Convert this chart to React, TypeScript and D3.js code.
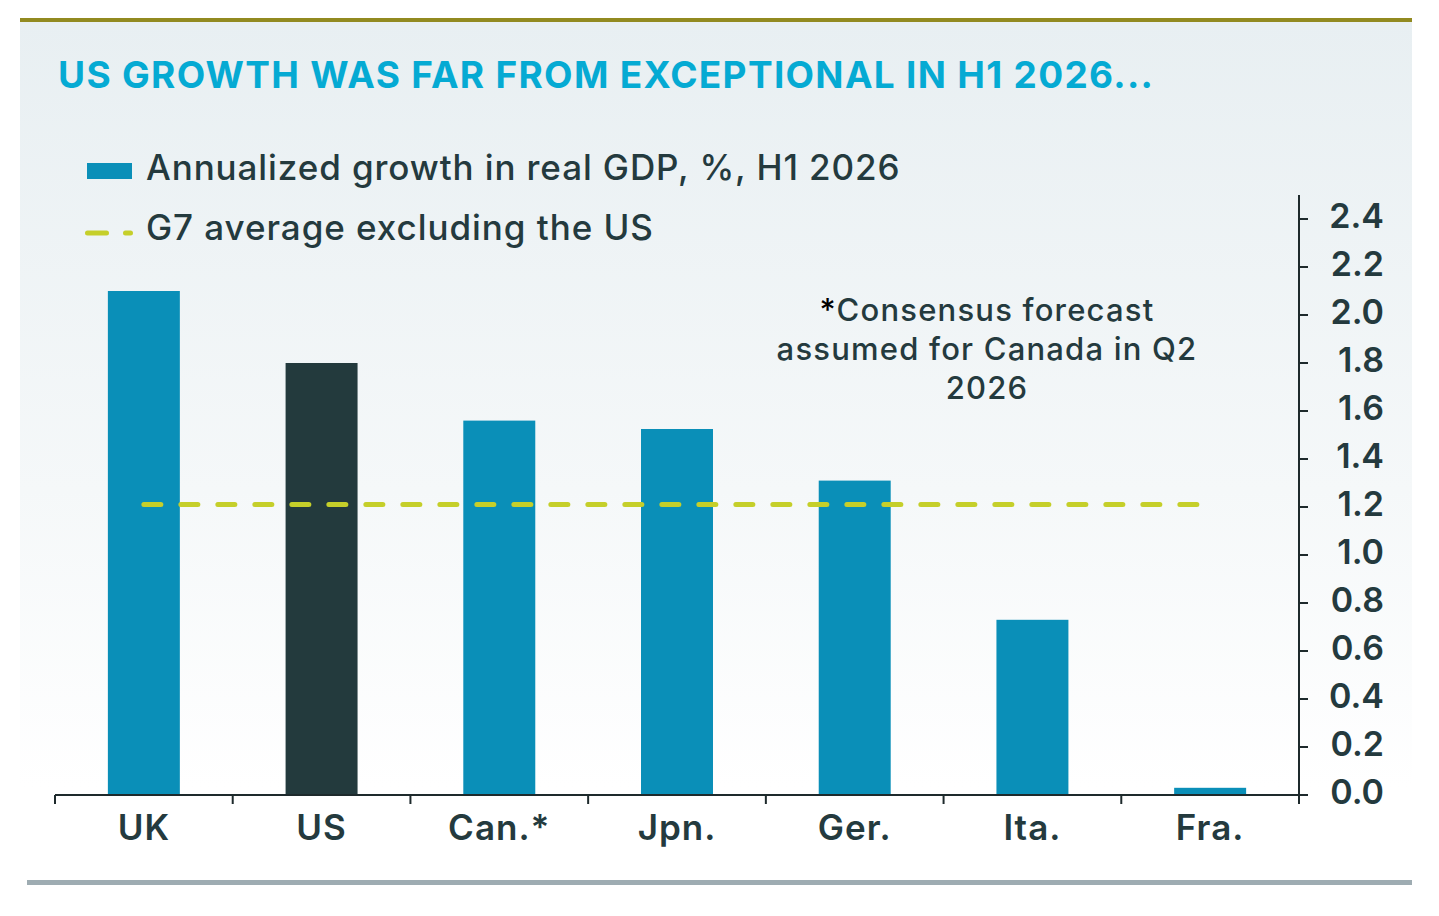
import React from 'react';
import { scaleBand, scaleLinear, range } from 'd3';

const countries = ['UK', 'US', 'Can.*', 'Jpn.', 'Ger.', 'Ita.', 'Fra.'];
const growth = [2.1, 1.8, 1.56, 1.525, 1.31, 0.73, 0.03];
const g7Average = 1.21;
const yTicks = [0, 0.2, 0.4, 0.6, 0.8, 1.0, 1.2, 1.4, 1.6, 1.8, 2.0, 2.2, 2.4];
const highlight = 'US';

const title = 'US GROWTH WAS FAR FROM EXCEPTIONAL IN H1 2026...';
const legendBars = 'Annualized growth in real GDP, %, H1 2026';
const legendLine = 'G7 average excluding the US';
const noteLines = ['Consensus forecast', 'assumed for Canada in Q2', '2026'];

const W = 1439;
const H = 916;
const FONT = 'Inter, "Noto Sans", sans-serif';
const INK = '#243a3e';
const BLUE = '#0a8fb8';
const DARK = '#233a3d';
const LIME = '#c5cf2a';
const AXIS = '#1e2a2c';

const App: React.FC = () => {
  const x0 = 55;
  const x1 = 1299;
  const yBase = 795;

  const xScale = scaleBand<string>().domain(countries).range([x0, x1]);
  const yScale = scaleLinear().domain([0, 2.5]).range([yBase, yBase - 2.5 * 240]);

  const bw = xScale.bandwidth();
  const barW = bw * 0.405;
  const tickXs = range(countries.length + 1).map((i) => x0 + i * bw);
  const first = countries[0];
  const last = countries[countries.length - 1];

  return (
    <div style={{ position: 'absolute', left: 0, top: 0 }}>
      <svg width={W} height={H} style={{ display: 'block', background: '#fff' }}>
        <defs>
          <linearGradient id="panel" x1="0" y1="0" x2="0" y2="1">
            <stop offset="0" stopColor="#e8eff2" />
            <stop offset="0.55" stopColor="#f5f8f9" />
            <stop offset="0.9" stopColor="#ffffff" />
          </linearGradient>
        </defs>
        <rect x={20} y={22} width={1392} height={850} fill="url(#panel)" />
        <rect x={20} y={18} width={1392} height={4} fill="#928a20" />
        <rect x={27} y={880} width={1385} height={5} fill="#9eacb2" />

        <text x={58} y={88} fontFamily={FONT} fontWeight={700} fontSize={37} letterSpacing={1.3} fill="#05aad3">
          {title}
        </text>

        {/* legend */}
        <rect x={87} y={163} width={45} height={16} fill={BLUE} />
        <text x={146} y={180} fontFamily={FONT} fontWeight={500} fontSize={35} letterSpacing={0.9} fill={INK}>
          {legendBars}
        </text>
        <line x1={87.5} x2={130.5} y1={233} y2={233} stroke={LIME} strokeWidth={5} strokeLinecap="round" strokeDasharray="19 19" />
        <text x={146} y={240} fontFamily={FONT} fontWeight={500} fontSize={35} letterSpacing={0.95} fill={INK}>
          {legendLine}
        </text>

        {/* bars */}
        {countries.map((c, i) => {
          const cx = (xScale(c) as number) + bw / 2;
          const y = yScale(growth[i]);
          return (
            <rect
              key={c}
              x={cx - barW / 2}
              y={y}
              width={barW}
              height={yBase - y}
              fill={c === highlight ? DARK : BLUE}
            />
          );
        })}

        {/* G7 average */}
        <line
          x1={(xScale(first) as number) + bw / 2}
          x2={(xScale(last) as number) + bw / 2}
          y1={yScale(g7Average)}
          y2={yScale(g7Average)}
          stroke={LIME}
          strokeWidth={5}
          strokeLinecap="round"
          strokeDasharray="17 20"
        />

        {/* x axis */}
        <line x1={x0} x2={x1} y1={yBase} y2={yBase} stroke={AXIS} strokeWidth={2} />
        {tickXs.map((tx, i) => (
          <line key={i} x1={tx} x2={tx} y1={yBase} y2={yBase + 9} stroke={AXIS} strokeWidth={2} />
        ))}
        {countries.map((c) => (
          <text
            key={c}
            x={(xScale(c) as number) + bw / 2}
            y={840}
            textAnchor="middle"
            fontFamily={FONT}
            fontWeight={600}
            fontSize={35}
            letterSpacing={1}
            fill={INK}
          >
            {c}
          </text>
        ))}

        {/* y axis on right */}
        <line x1={x1} x2={x1} y1={yScale(2.5)} y2={yBase} stroke={AXIS} strokeWidth={2} />
        {yTicks.map((t) => (
          <g key={t}>
            <line x1={x1} x2={x1 + 9} y1={yScale(t)} y2={yScale(t)} stroke={AXIS} strokeWidth={2} />
            <text
              x={1384}
              y={yScale(t) + 9}
              textAnchor="end"
              fontFamily={FONT}
              fontWeight={600}
              fontSize={34}
              fill={INK}
            >
              {t.toFixed(1)}
            </text>
          </g>
        ))}

        {/* note */}
        {noteLines.map((line, i) => (
          <text
            key={i}
            x={987}
            y={321 + i * 39}
            textAnchor="middle"
            fontFamily={FONT}
            fontWeight={500}
            fontSize={31}
            letterSpacing={1.2}
            fill={INK}
          >
            {i === 0 ? <tspan fill="#000">*</tspan> : null}
            {line}
          </text>
        ))}
      </svg>
    </div>
  );
};

export default App;
